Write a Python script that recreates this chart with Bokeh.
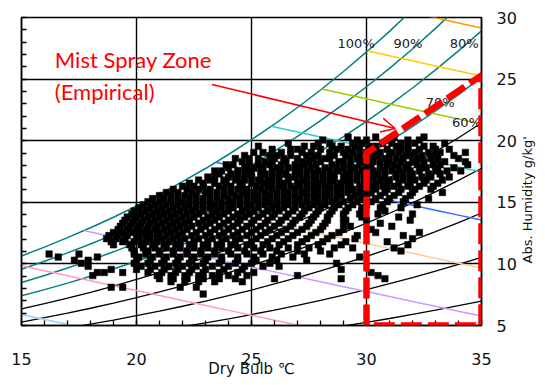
import math
from bokeh.plotting import figure
from bokeh.models import (LinearAxis, FixedTicker, Range1d, Arrow, OpenHead,
                          Label, PolyAnnotation)
from bokeh.embed import file_html
from bokeh.resources import INLINE
from bokeh.core.properties import value

# ---------------- data ----------------
temps = list(range(15, 36))  # dry bulb, degC
psat_kpa = [1.705, 1.818, 1.938, 2.064, 2.197, 2.339, 2.487, 2.645, 2.810, 2.985,
            3.169, 3.363, 3.567, 3.782, 4.008, 4.246, 4.495, 4.758, 5.034, 5.323, 5.627]
pressure_kpa = 101.325
rh_teal = [100, 90, 80, 70]
rh_black = [60, 50, 40, 30, 20]
enthalpy_levels = [30, 40, 50, 60, 70, 80, 90, 100, 110]
enthalpy_colors = ["#99CCFF", "#FF99CC", "#CC99FF", "#FFCC99", "#3366FF",
                   "#33CCCC", "#99CC00", "#FFCC00", "#FF9900"]
rh_labels = ["100%", "90%", "80%", "70%", "60%"]
rh_label_t = [29.55, 31.8, 34.25, 33.2, 34.35]
rh_label_w = [27.85, 27.85, 27.85, 23.1, 21.5]

zone_t = [30, 30, 35, 35]
zone_w = [5, 19.0, 25.3, 5]

x_ticks = [15, 20, 25, 30, 35]
y_ticks = [5, 10, 15, 20, 25, 30]

# measured points: absolute humidity rows (g/kg) and dry-bulb temperatures (degC)
row_w = [20.3, 20.05, 19.8, 19.55, 19.3, 19.05, 18.8, 18.55, 18.3, 18.05,
         17.8, 17.55, 17.3, 17.05, 16.8, 16.55, 16.3, 16.05, 15.8, 15.55,
         15.3, 15.05, 14.8, 14.55, 14.3, 14.05, 13.8, 13.55, 13.3, 13.05,
         12.8, 12.55, 12.3, 12.05, 11.8, 11.55, 11.3, 11.05, 10.8, 10.55,
         10.3, 10.05, 9.8, 9.55, 9.3, 9.05, 8.8, 8.55, 8.1, 7.55]
row_t = [
    [29.2, 30.4, 31.2, 32.5],
    [28.1, 29.6, 30.0, 31.0, 31.8, 32.3],
    [26.6, 27.9, 28.4, 29.4, 29.8, 30.7, 31.1, 31.5, 32.1, 33.4],
    [25.3, 27.3, 27.7, 28.5, 28.9, 29.5, 30.1, 30.4, 31.3, 31.8, 32.5, 32.9],
    [25.9, 26.7, 27.0, 28.0, 28.7, 29.2, 29.7, 30.3, 30.9, 31.5, 31.8, 32.3, 33.0, 33.6],
    [25.1, 25.5, 26.3, 27.2, 27.6, 28.4, 29.0, 29.4, 30.0, 30.6, 31.1, 31.4, 32.1, 32.7, 33.2, 34.3],
    [24.7, 25.8, 26.1, 26.7, 27.4, 27.9, 28.6, 29.1, 29.7, 30.3, 30.5, 31.0, 31.7, 31.9, 32.4, 33.0, 33.8],
    [24.3, 24.9, 25.3, 26.0, 26.4, 27.0, 27.7, 28.2, 28.4, 29.3, 29.6, 30.1, 30.8, 31.3, 31.6, 32.2, 32.8, 33.1, 34.0],
    [24.6, 25.6, 25.9, 26.5, 27.2, 27.5, 28.0, 28.8, 29.0, 29.8, 30.3, 30.6, 31.0, 31.5, 32.0, 32.5, 33.4, 34.3],
    [23.9, 24.2, 24.9, 25.3, 25.8, 26.3, 26.9, 27.3, 27.8, 28.5, 29.3, 29.7, 30.2, 30.9, 31.2, 31.8, 32.2, 32.9, 33.2, 34.4],
    [24.0, 24.7, 25.1, 25.5, 26.1, 26.6, 27.1, 27.6, 28.2, 28.7, 29.0, 29.5, 30.0, 30.6, 31.4, 31.7, 32.4, 32.6, 33.1, 33.8],
    [23.4, 23.7, 24.4, 24.9, 25.4, 25.9, 26.3, 26.9, 27.4, 27.9, 28.4, 28.8, 29.3, 29.8, 30.3, 30.8, 31.1, 31.9, 32.3, 33.0, 33.5, 34.1],
    [23.6, 24.1, 24.7, 25.0, 25.6, 26.2, 26.5, 27.1, 27.7, 28.1, 28.6, 29.1, 29.6, 30.0, 30.5, 31.3, 31.6, 32.0, 32.7, 33.2],
    [23.1, 23.4, 24.0, 24.4, 25.0, 25.4, 25.9, 26.6, 26.9, 27.4, 27.8, 28.4, 29.0, 29.3, 29.9, 30.3, 30.8, 31.3, 31.9, 32.4, 32.8, 33.6],
    [22.7, 23.2, 23.8, 24.3, 24.7, 25.3, 25.7, 26.2, 26.6, 27.2, 27.7, 28.1, 28.6, 29.1, 29.6, 30.1, 30.6, 31.0, 31.6, 32.1, 32.6, 33.3],
    [22.3, 22.9, 23.4, 23.9, 24.5, 25.0, 25.5, 25.9, 26.4, 27.0, 27.4, 27.9, 28.4, 28.9, 29.3, 29.9, 30.4, 30.9, 31.4, 31.9, 32.5, 33.1],
    [22.0, 22.5, 22.9, 23.6, 24.1, 24.6, 25.2, 25.7, 26.2, 26.7, 27.1, 27.7, 28.2, 28.7, 29.2, 29.7, 30.2, 30.7, 31.2, 31.8, 32.3, 32.9],
    [21.6, 22.2, 22.7, 23.2, 23.8, 24.4, 24.8, 25.4, 25.9, 26.4, 26.9, 27.4, 27.9, 28.4, 28.9, 29.4, 29.9, 30.4, 30.9, 31.5, 32.1, 32.8],
    [21.3, 21.8, 22.4, 23.0, 23.5, 24.1, 24.6, 25.1, 25.6, 26.1, 26.6, 27.2, 27.7, 28.2, 28.7, 29.2, 29.7, 30.2, 30.8, 31.4, 32.0, 33.3],
    [21.0, 21.5, 22.1, 22.6, 23.2, 23.8, 24.3, 24.8, 25.3, 25.8, 26.4, 26.9, 27.4, 27.9, 28.4, 28.9, 29.5, 30.0, 30.6, 31.2, 31.9],
    [20.7, 21.2, 21.8, 22.3, 22.9, 23.5, 24.0, 24.5, 25.1, 25.6, 26.1, 26.6, 27.1, 27.7, 28.2, 28.7, 29.3, 29.8, 30.4, 31.0, 31.7, 32.7],
    [20.5, 21.0, 21.5, 22.0, 22.6, 23.2, 23.7, 24.2, 24.8, 25.3, 25.8, 26.4, 26.9, 27.4, 27.9, 28.5, 29.0, 29.6, 30.2, 30.9, 31.6],
    [20.3, 20.8, 21.3, 21.8, 22.3, 22.9, 23.4, 24.0, 24.5, 25.0, 25.6, 26.1, 26.6, 27.2, 27.7, 28.2, 28.8, 29.4, 30.0, 30.7, 32.2],
    [20.1, 20.6, 21.1, 21.6, 22.1, 22.6, 23.2, 23.7, 24.2, 24.8, 25.3, 25.9, 26.4, 26.9, 27.5, 28.0, 28.6, 29.2, 29.8, 30.6, 31.5],
    [19.9, 20.4, 20.9, 21.4, 21.9, 22.4, 22.9, 23.5, 24.0, 24.6, 25.1, 25.7, 26.2, 26.8, 27.3, 27.9, 28.5, 29.1, 29.8, 30.8],
    [19.8, 20.2, 20.7, 21.2, 21.7, 22.2, 22.7, 23.3, 23.8, 24.4, 24.9, 25.5, 26.0, 26.6, 27.2, 27.8, 28.4, 29.0, 29.7, 30.5, 32.0],
    [19.6, 20.0, 20.5, 21.0, 21.5, 22.0, 22.5, 23.1, 23.6, 24.2, 24.7, 25.3, 25.9, 26.5, 27.1, 27.7, 28.3, 29.0, 29.8, 31.4],
    [19.5, 19.9, 20.3, 20.8, 21.3, 21.8, 22.3, 22.9, 23.4, 24.0, 24.5, 25.1, 25.7, 26.3, 26.9, 27.6, 28.3, 29.1, 30.0, 31.9],
    [19.4, 19.8, 20.2, 20.6, 21.1, 21.6, 22.1, 22.7, 23.2, 23.8, 24.4, 25.0, 25.6, 26.2, 26.8, 27.5, 28.2, 29.0, 30.6],
    [19.3, 19.7, 20.1, 20.5, 20.9, 21.4, 21.9, 22.4, 23.0, 23.6, 24.2, 24.8, 25.4, 26.0, 26.7, 27.4, 28.1, 29.3, 31.1],
    [19.2, 19.6, 20.0, 20.4, 20.8, 21.2, 21.7, 22.2, 22.8, 23.4, 24.0, 24.6, 25.2, 25.8, 26.5, 27.2, 28.0, 29.0, 30.2],
    [19.0, 19.4, 19.8, 20.2, 20.6, 21.0, 21.5, 22.0, 22.6, 23.2, 23.8, 24.4, 25.0, 25.6, 26.3, 27.0, 27.8, 28.8, 30.4, 32.3],
    [18.8, 19.2, 19.6, 20.0, 20.4, 20.9, 21.3, 21.8, 22.4, 23.0, 23.6, 24.2, 24.8, 25.4, 26.1, 26.8, 27.6, 28.5, 29.6, 31.6],
    [18.7, 19.1, 19.5, 20.1, 20.6, 21.1, 21.6, 22.1, 22.7, 23.3, 23.9, 24.5, 25.2, 25.9, 26.6, 27.4, 28.3, 29.5, 32.0],
    [18.9, 19.4, 19.9, 20.4, 20.9, 21.4, 21.9, 22.5, 23.1, 23.7, 24.3, 25.0, 25.7, 26.4, 27.2, 28.1, 29.1, 30.9],
    [19.0, 19.7, 20.2, 20.7, 21.2, 21.7, 22.3, 22.9, 23.5, 24.1, 24.8, 25.5, 26.2, 27.0, 27.9, 28.9, 31.8],
    [19.8, 20.3, 20.8, 21.3, 21.9, 22.5, 23.1, 23.7, 24.4, 25.1, 25.8, 26.6, 27.5, 28.6, 29.4, 31.2],
    [19.9, 20.5, 21.0, 21.6, 22.2, 22.8, 23.4, 24.0, 24.7, 25.4, 26.1, 27.0, 28.0, 31.5],
    [16.2, 17.5, 19.9, 20.4, 21.0, 21.6, 22.2, 22.8, 23.4, 24.1, 24.8, 25.5, 26.3, 27.3, 28.4],
    [16.6, 18.3, 20.1, 20.7, 21.3, 21.9, 22.5, 23.1, 23.7, 24.4, 25.1, 25.9, 26.8, 29.7],
    [17.3, 17.9, 20.0, 20.6, 21.2, 21.8, 22.4, 23.0, 23.7, 24.4, 25.2, 26.1, 27.4],
    [17.6, 19.9, 20.5, 21.1, 21.7, 22.3, 22.9, 23.6, 24.3, 25.0, 25.8, 28.7],
    [17.9, 20.2, 20.8, 21.4, 22.0, 22.6, 23.3, 24.0, 24.7, 25.5, 26.2],
    [18.9, 20.0, 20.6, 21.2, 21.8, 22.4, 23.0, 23.8, 24.6, 28.9],
    [18.3, 18.6, 19.4, 20.5, 21.1, 21.7, 22.3, 22.9, 23.6, 24.4, 25.1, 30.2],
    [18.1, 20.9, 21.5, 22.1, 22.7, 23.3, 24.0, 24.8, 27.0, 30.5],
    [21.0, 21.6, 22.2, 22.9, 23.6, 24.3, 26.0, 28.9, 30.8],
    [21.5, 22.1, 22.7, 23.4, 24.6],
    [18.9, 19.4, 21.9, 22.6],
    [22.9],
]

# ---------------- helpers ----------------
def hum_at(rh, ps):
    pw = rh / 100.0 * ps
    return 622.0 * pw / (pressure_kpa - pw)

sat_w = [hum_at(100, ps) for ps in psat_kpa]
sat_h = [1.006 * t + w / 1000.0 * (2501 + 1.86 * t) for t, w in zip(temps, sat_w)]

def enthalpy_line(h):
    w_of = lambda t: (h - 1.006 * t) / (2501 + 1.86 * t) * 1000.0
    if sat_h[0] >= h:
        xs = [temps[0]]
        ys = [w_of(temps[0])]
        start = temps[0]
    else:
        xs, ys = [], []
        start = temps[-1]
        for i in range(len(temps) - 1):
            if sat_h[i] <= h <= sat_h[i + 1]:
                f = (h - sat_h[i]) / (sat_h[i + 1] - sat_h[i])
                start = temps[i] + f
                xs.append(start)
                ys.append(sat_w[i] + f * (sat_w[i + 1] - sat_w[i]))
                break
    for t in temps:
        if t > start:
            xs.append(t)
            ys.append(w_of(t))
    return xs, ys

# ---------------- figure ----------------
FONT = "DejaVu Sans"
p = figure(width=545, height=385, output_backend="svg", toolbar_location=None,
           x_range=Range1d(15, 35), y_range=Range1d(5, 30),
           y_axis_location="right",
           min_border_left=21, min_border_right=60, min_border_top=17, min_border_bottom=60)
p.background_fill_color = "white"
p.border_fill_color = "white"
p.outline_line_color = "black"
p.outline_line_width = 1.5

# grid
p.xgrid.ticker = FixedTicker(ticks=[20, 25, 30])
p.ygrid.ticker = FixedTicker(ticks=[10, 15, 20, 25])
for g in (p.xgrid, p.ygrid):
    g.grid_line_color = "black"
    g.grid_line_width = 1.4

# bottom axis
xa = p.xaxis[0]
xa.ticker = FixedTicker(ticks=x_ticks, minor_ticks=list(range(16, 35)))
xa.major_tick_in = 5
xa.major_tick_out = 0
xa.minor_tick_in = 5
xa.minor_tick_out = 0
xa.axis_line_width = 1.5
xa.major_tick_line_width = 1.3
xa.minor_tick_line_width = 1.3
xa.major_label_text_font = FONT
xa.major_label_text_font_size = "16px"
xa.major_label_text_color = "#111111"
xa.major_label_standoff = 27
xa.axis_label = "Dry Bulb ℃"
xa.axis_label_text_font = FONT
xa.axis_label_text_font_size = "15px"
xa.axis_label_text_font_style = "normal"
xa.axis_label_text_color = "#111111"
xa.axis_label_standoff = -8

# right axis (tick labels)
ya = p.yaxis[0]
ya.ticker = FixedTicker(ticks=y_ticks)
ya.major_tick_in = 0
ya.major_tick_out = 0
ya.minor_tick_line_color = None
ya.axis_line_width = 1.5
ya.major_label_text_font = FONT
ya.major_label_text_font_size = "16px"
ya.major_label_text_color = "#111111"
ya.major_label_standoff = 15

# right-side title axis: label reads bottom to top
NBSP = "\u00a0"
ta = LinearAxis(ticker=FixedTicker(ticks=[]),
                axis_line_color=None, major_tick_line_color=None, minor_tick_line_color=None,
                major_tick_in=0, major_tick_out=0, major_label_standoff=0,
                axis_label=NBSP * 15 + "Abs. Humidity  g/kg'", axis_label_text_font=FONT,
                axis_label_text_font_size="13px", axis_label_text_font_style="normal",
                axis_label_text_color="#111111", axis_label_standoff=8,
                axis_label_orientation=math.pi / 2)
for v in ("start", "left"):
    try:
        ta.axis_label_align = v
        break
    except Exception:
        pass
p.add_layout(ta, "right")

# left axis (inward ticks only)
la = LinearAxis(ticker=FixedTicker(ticks=[], minor_ticks=list(range(5, 31))),
                major_tick_in=0, major_tick_out=0,
                minor_tick_in=5, minor_tick_out=0, minor_tick_line_width=1.3,
                major_label_standoff=0, axis_line_width=1.5)
p.add_layout(la, "left")

# RH curves
for rh in rh_teal:
    p.line(temps, [hum_at(rh, ps) for ps in psat_kpa], line_color="#008080", line_width=1.5)
for rh in rh_black:
    p.line(temps, [hum_at(rh, ps) for ps in psat_kpa], line_color="black", line_width=1.3)

# enthalpy lines
for h, c in zip(enthalpy_levels, enthalpy_colors):
    xs, ys = enthalpy_line(h)
    p.line(xs, ys, line_color=c, line_width=1.5)

# measured points
pts_t, pts_w = [], []
for w, ts in zip(row_w, row_t):
    for t in ts:
        pts_t.append(t)
        pts_w.append(w)
p.scatter(pts_t, pts_w, marker="square", size=6.5, fill_color="black", line_color="black",
          line_width=0.5)

# RH labels
p.text(rh_label_t, rh_label_w, text=rh_labels, text_font=value(FONT), text_font_size="13px",
       text_align="center", text_baseline="middle", text_color="#222222")

# mist spray zone
zone = PolyAnnotation(xs=zone_t, ys=zone_w, xs_units="data", ys_units="data",
                      fill_alpha=0, line_color="#FF0000", line_alpha=1.0, line_width=6.5,
                      line_dash="21 6", line_join="round")
p.add_layout(zone)

p.add_layout(Label(x=16.45, y=26.6, text="Mist Spray Zone", text_color="#FF0000",
                   text_font="Lato", text_font_size="22px", text_baseline="middle"))
p.add_layout(Label(x=16.45, y=24.0, text="(Empirical)", text_color="#FF0000",
                   text_font="Lato", text_font_size="22px", text_baseline="middle"))
p.add_layout(Arrow(x_start=23.28, y_start=24.56, x_end=31.25, y_end=20.99,
                   line_color="#FF0000", line_width=1.5,
                   end=OpenHead(size=14, line_color="#FF0000", line_width=1.5)))

open("out.html", "w").write(file_html(p, INLINE))
